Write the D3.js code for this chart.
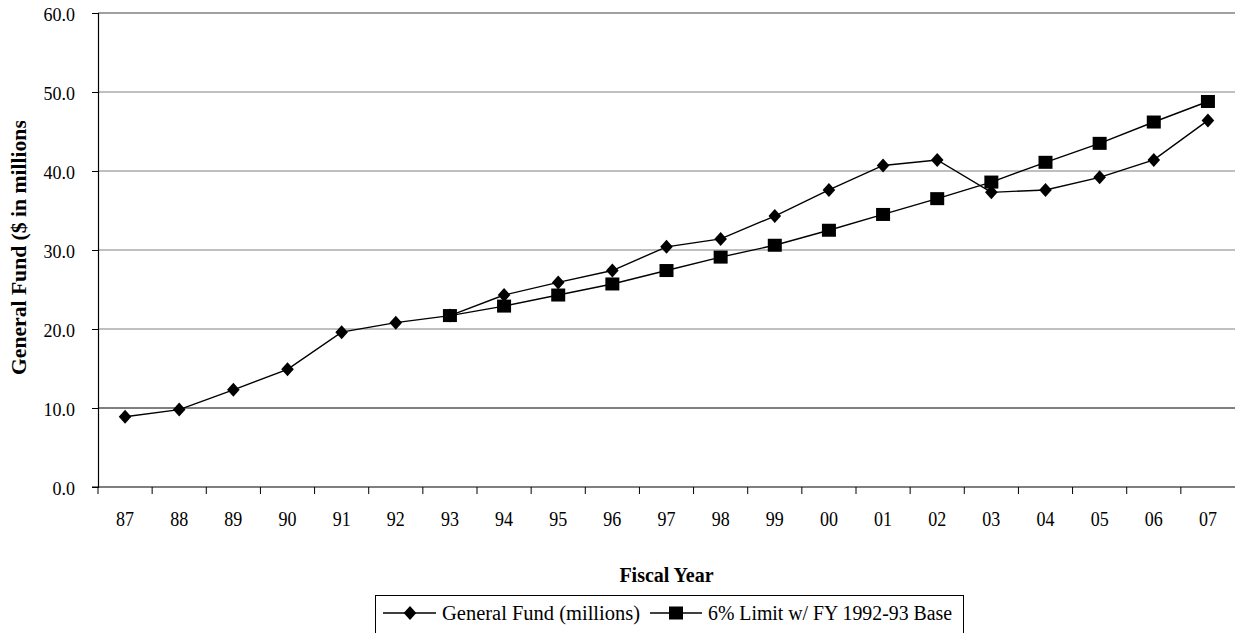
<!DOCTYPE html>
<html>
<head>
<meta charset="utf-8">
<script src="https://cdn.jsdelivr.net/npm/d3@7"></script>
<style>
  body { margin: 0; background: #fff; }
</style>
</head>
<body>
<svg id="chart" width="1235" height="633"></svg>
<script>
// fiscal years (x categories)
var years = ["87","88","89","90","91","92","93","94","95","96","97","98","99","00","01","02","03","04","05","06","07"];

// General Fund (millions)
var generalFund = [8.9, 9.8, 12.3, 14.9, 19.6, 20.8, 21.7, 24.3, 25.9, 27.4, 30.4, 31.4, 34.3, 37.6, 40.7, 41.4, 37.3, 37.6, 39.2, 41.4, 46.4];

// 6% Limit w/ FY 1992-93 Base (starts at 93)
var limitYears = ["93","94","95","96","97","98","99","00","01","02","03","04","05","06","07"];
var limitValues = [21.7, 22.9, 24.3, 25.7, 27.4, 29.1, 30.6, 32.5, 34.5, 36.5, 38.6, 41.1, 43.5, 46.2, 48.8];

var yTicks = [0, 10, 20, 30, 40, 50, 60];

var serif = "'Liberation Serif', 'Times New Roman', serif";

var svg = d3.select("#chart");

var x = d3.scaleBand().domain(years).range([98, 1235]).padding(0);
var y = d3.scaleLinear().domain([0, 60]).range([487, 13]);

// gridlines
svg.append("g")
  .selectAll("line")
  .data(yTicks.filter(function (d) { return d > 0; }))
  .enter()
  .append("line")
  .attr("x1", 98)
  .attr("x2", 1235)
  .attr("y1", function (d) { return y(d); })
  .attr("y2", function (d) { return y(d); })
  .attr("stroke", function (d) { return d == 10 ? "#000" : "#808080"; })
  .attr("stroke-width", function (d) { return d == 60 ? 1.5 : 1; });

// y axis
var yAxis = svg.append("g")
  .attr("transform", "translate(98,0)")
  .call(d3.axisLeft(y).tickValues(yTicks).tickFormat(d3.format(".1f")).tickSize(6).tickPadding(17));
yAxis.attr("font-family", null);
yAxis.select(".domain").attr("stroke", "#000").attr("stroke-width", 1.2);
yAxis.selectAll("text").attr("font-size", 18).attr("dy", "0.42em");

// x axis line
svg.append("line")
  .attr("x1", 92).attr("x2", 1235)
  .attr("y1", y(0)).attr("y2", y(0))
  .attr("stroke", "#000").attr("stroke-width", 1.2);

// x ticks between categories
svg.append("g")
  .selectAll("line")
  .data(years)
  .enter()
  .append("line")
  .attr("x1", function (d) { return x(d); })
  .attr("x2", function (d) { return x(d); })
  .attr("y1", y(0))
  .attr("y2", y(0) + 7)
  .attr("stroke", "#000");

// x labels (narrow, as in the original)
svg.append("g")
  .selectAll("text")
  .data(years)
  .enter()
  .append("text")
  .attr("x", function (d) { return x(d) + x.bandwidth() / 2; })
  .attr("y", 526)
  .attr("text-anchor", "middle")
  .attr("font-size", 21)
  .attr("textLength", 18)
  .attr("lengthAdjust", "spacingAndGlyphs")
  .text(function (d) { return d });

// axis titles
svg.append("text")
  .attr("x", (98 + 1235) / 2)
  .attr("y", 582)
  .attr("text-anchor", "middle")
  .attr("font-size", 20)
  .attr("font-weight", "bold")
  .text("Fiscal Year");

svg.append("clipPath")
  .attr("id", "ytitle-clip")
  .append("rect")
  .attr("x", 0).attr("y", 121).attr("width", 60).attr("height", 400);

svg.append("g")
  .attr("clip-path", "url(#ytitle-clip)")
  .append("text")
  .attr("transform", "translate(26,375) rotate(-90)")
  .attr("text-anchor", "start")
  .attr("font-size", 21)
  .attr("font-weight", "bold")
  .attr("textLength", 262)
  .attr("lengthAdjust", "spacingAndGlyphs")
  .text("General Fund ($ in millions)");

// lines
var line = d3.line()
  .x(function (d) { return x(d[0]) + x.bandwidth() / 2; })
  .y(function (d) { return y(d[1]); });

var gfPoints = years.map(function (d, i) { return [d, generalFund[i]]; });
var limPoints = limitYears.map(function (d, i) { return [d, limitValues[i]]; });

svg.append("path")
  .datum(gfPoints)
  .attr("d", line)
  .attr("fill", "none")
  .attr("stroke", "#000")
  .attr("stroke-width", 1.4);

svg.append("path")
  .datum(limPoints)
  .attr("d", line)
  .attr("fill", "none")
  .attr("stroke", "#000")
  .attr("stroke-width", 1.4);

// diamond marker, a bit taller than wide
var diamondType = {
  draw: function (ctx) {
    ctx.moveTo(0, -7);
    ctx.lineTo(6.3, 0);
    ctx.lineTo(0, 7);
    ctx.lineTo(-6.3, 0);
    ctx.closePath();
  }
};
var diamond = d3.symbol().type(diamondType);

svg.append("g")
  .selectAll("rect")
  .data(limPoints)
  .enter()
  .append("rect")
  .attr("x", function (d) { return x(d[0]) + x.bandwidth() / 2 - 7; })
  .attr("y", function (d) { return y(d[1]) - 6.5; })
  .attr("width", 14)
  .attr("height", 13)
  .attr("fill", "#000");

svg.append("g")
  .selectAll("path")
  .data(gfPoints)
  .enter()
  .append("path")
  .attr("d", diamond)
  .attr("transform", function (d) { return "translate(" + (x(d[0]) + x.bandwidth() / 2) + "," + y(d[1]) + ")"; })
  .attr("fill", "#000");

// legend
var legend = svg.append("g");

legend.append("rect")
  .attr("x", 375.5).attr("y", 595.5)
  .attr("width", 588).attr("height", 60)
  .attr("fill", "#fff")
  .attr("stroke", "#000");

legend.append("line")
  .attr("x1", 383).attr("x2", 436).attr("y1", 613).attr("y2", 613)
  .attr("stroke", "#000").attr("stroke-width", 1.4);
legend.append("path")
  .attr("d", diamond)
  .attr("transform", "translate(410,613)")
  .attr("fill", "#000");
legend.append("text")
  .attr("x", 442).attr("y", 620)
  .attr("font-size", 20)
  .attr("textLength", 198)
  .attr("lengthAdjust", "spacingAndGlyphs")
  .text("General Fund (millions)");

legend.append("line")
  .attr("x1", 650).attr("x2", 702).attr("y1", 613).attr("y2", 613)
  .attr("stroke", "#000").attr("stroke-width", 1.4);
legend.append("rect")
  .attr("x", 669).attr("y", 606.5).attr("width", 14).attr("height", 13)
  .attr("fill", "#000");
legend.append("text")
  .attr("x", 708).attr("y", 620)
  .attr("font-size", 20)
  .attr("textLength", 244)
  .attr("lengthAdjust", "spacingAndGlyphs")
  .text("6% Limit w/ FY 1992-93 Base");

// every text in Times-like serif
svg.selectAll("text").style("font-family", serif).attr("fill", "#000");
</script>
</body>
</html>
